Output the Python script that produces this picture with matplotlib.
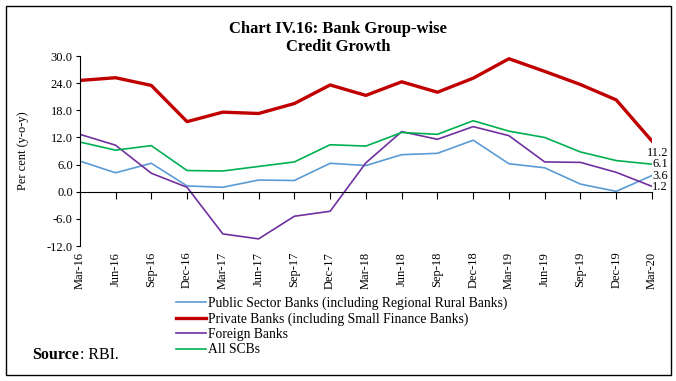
import matplotlib.pyplot as plt
from matplotlib.patches import Rectangle

plt.rcParams['font.family'] = ['Liberation Serif', 'DejaVu Serif']

quarters = ['Mar-16', 'Jun-16', 'Sep-16', 'Dec-16', 'Mar-17', 'Jun-17', 'Sep-17',
            'Dec-17', 'Mar-18', 'Jun-18', 'Sep-18', 'Dec-18', 'Mar-19', 'Jun-19',
            'Sep-19', 'Dec-19', 'Mar-20']

# credit growth, per cent y-o-y
psb = [6.8, 4.2, 6.3, 1.3, 1.0, 2.6, 2.5, 6.3, 5.8, 8.2, 8.5, 11.4, 6.2, 5.3, 1.7, 0.1, 3.6]
private = [24.6, 25.2, 23.5, 15.5, 17.6, 17.3, 19.5, 23.6, 21.3, 24.3, 22.0, 25.1, 29.4, 26.6, 23.7, 20.3, 11.2]
foreign = [12.7, 10.3, 4.1, 1.0, -9.3, -10.4, -5.4, -4.3, 6.4, 13.3, 11.6, 14.4, 12.4, 6.6, 6.5, 4.3, 1.2]
all_scbs = [11.0, 9.2, 10.2, 4.7, 4.6, 5.6, 6.6, 10.4, 10.1, 13.1, 12.7, 15.7, 13.4, 12.0, 8.8, 6.9, 6.1]

labels = ['Public Sector Banks (including Regional Rural Banks)',
          'Private Banks (including Small Finance Banks)',
          'Foreign Banks',
          'All SCBs']
colors = ['#5B9BD5', '#C00000', '#7030A0', '#00B050']
widths = [1.2, 2.4, 1.2, 1.2]

fig = plt.figure(figsize=(6.76, 3.81), dpi=100)
ax = fig.add_axes([0.118, 0.354, 0.8465, 0.499])

x = list(range(len(quarters)))
handles = []
for vals, lab, c, w in zip([psb, private, foreign, all_scbs], labels, colors, widths):
    ln, = ax.plot(x, vals, color=c, lw=w, label=lab)
    handles.append(ln)

# end values, right aligned just past the last point
end_pos = [(private[-1], -2.6), (all_scbs[-1], 0.1), (psb[-1], -0.1), (foreign[-1], -0.1)]
for v, off in end_pos:
    ax.text(16.45, v + off, '%.1f' % v, fontsize=9, ha='right', va='center', clip_on=False)

ax.set_xlim(0, 16)
ax.set_ylim(-12, 30)
yt = [-12, -6, 0, 6, 12, 18, 24, 30]
ax.set_yticks(yt)
ax.set_yticklabels(['%.1f' % v for v in yt], fontsize=9)
ax.tick_params(axis='y', length=3, width=0.8, pad=2)
ax.set_ylabel('Per cent (y-o-y)', fontsize=9, labelpad=13)

ax.spines['top'].set_visible(False)
ax.spines['right'].set_visible(False)
ax.spines['bottom'].set_position(('data', 0))
ax.spines['left'].set_linewidth(0.8)
ax.spines['bottom'].set_linewidth(0.8)
ax.set_xticks(x)
ax.tick_params(axis='x', length=5, width=0.8, labelbottom=False, direction='out')

sec = ax.secondary_xaxis('bottom')
sec.set_xticks(x)
sec.set_xticklabels(quarters, rotation=90, fontsize=9)
sec.tick_params(length=0, pad=4)
sec.spines['bottom'].set_visible(False)

fig.text(0.5, 0.945, 'Chart IV.16: Bank Group-wise\nCredit Growth', ha='center', va='top',
         fontsize=12, fontweight='bold', linespacing=1.2)

fig.legend(handles=handles, loc='upper left', bbox_to_anchor=(0.26, 0.222), frameon=False,
           fontsize=9.8, handlelength=2.2, handletextpad=0.2, labelspacing=0.17,
           borderpad=0, borderaxespad=0)

fig.text(0.047, 0.068, 'Source', fontsize=11.5, fontweight='bold', ha='left', va='center')
fig.text(0.047 + 0.072, 0.068, ': RBI.', fontsize=11.5, ha='left', va='center')

fig.patches.append(Rectangle((0.009, 0.015), 0.984, 0.968, transform=fig.transFigure,
                             fill=False, lw=1.0, ec='black'))

fig.savefig('out.png', dpi=100)
